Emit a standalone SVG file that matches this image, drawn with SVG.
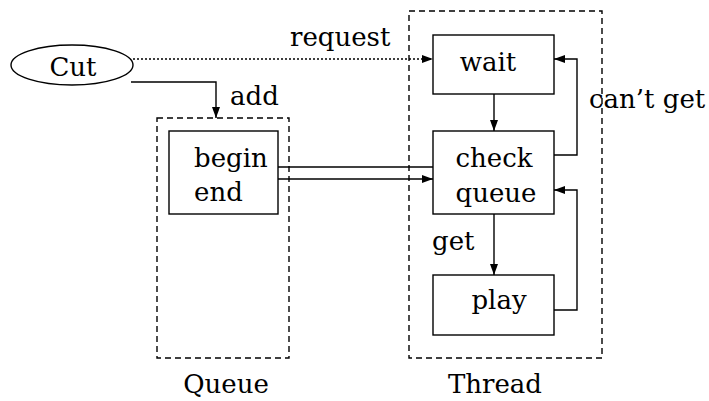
<svg xmlns="http://www.w3.org/2000/svg" width="709" height="401" viewBox="0 0 709 401">
  <style>
    text { font-family: "DejaVu Serif", "Liberation Serif", serif; font-size: 26px; fill: #000; }
    .box { fill: #fff; stroke: #000; stroke-width: 1.4; }
    .group { fill: none; stroke: #000; stroke-width: 1.4; stroke-dasharray: 6 4; }
    .edge { fill: none; stroke: #000; stroke-width: 1.4; }
    .dotted { stroke-dasharray: 2 2; }
  </style>
  <defs>
    <marker id="arrow" viewBox="0 0 11 8" refX="11" refY="4" markerWidth="11" markerHeight="8" markerUnits="userSpaceOnUse" orient="auto">
      <path d="M0,0 L11,4 L0,8 z" fill="#000"/>
    </marker>
  </defs>

  <rect width="709" height="401" fill="#fff"/>

  <!-- containers -->
  <g id="queue-group">
    <rect class="group" x="157" y="118" width="132" height="240"/>
    <text x="226" y="393" text-anchor="middle">Queue</text>
  </g>
  <g id="thread-group">
    <rect class="group" x="409" y="11" width="193" height="347"/>
    <text x="495" y="393" text-anchor="middle">Thread</text>
  </g>

  <!-- connectors -->
  <g id="connectors">
    <path class="edge dotted" d="M133,59 H433" marker-end="url(#arrow)"/>
    <path class="edge" d="M131,82 H216 V118" marker-end="url(#arrow)"/>
    <path class="edge" d="M278,167 H433"/>
    <path class="edge" d="M278,179 H433" marker-end="url(#arrow)"/>
    <path class="edge" d="M494,94 V131" marker-end="url(#arrow)"/>
    <path class="edge" d="M494,214 V275" marker-end="url(#arrow)"/>
    <path class="edge" d="M554,155 H577 V59 H554" marker-end="url(#arrow)"/>
    <path class="edge" d="M554,310 H577 V190 H554" marker-end="url(#arrow)"/>
    <text x="290" y="46">request</text>
    <text x="230" y="105">add</text>
    <text x="589" y="108">can’t get</text>
    <text x="432" y="250">get</text>
  </g>

  <!-- nodes -->
  <g id="cut">
    <ellipse class="box" cx="72" cy="65" rx="61" ry="20"/>
    <text x="73" y="76" text-anchor="middle">Cut</text>
  </g>
  <g id="queue-box">
    <rect class="box" x="169" y="131" width="109" height="83"/>
    <text x="194" y="167">begin</text>
    <text x="194" y="201">end</text>
  </g>
  <g id="wait">
    <rect class="box" x="433" y="35" width="121" height="59"/>
    <text x="488" y="71" text-anchor="middle">wait</text>
  </g>
  <g id="check-queue">
    <rect class="box" x="433" y="131" width="121" height="83"/>
    <text x="494" y="167" text-anchor="middle">check</text>
    <text x="496" y="202" text-anchor="middle">queue</text>
  </g>
  <g id="play">
    <rect class="box" x="433" y="275" width="121" height="60"/>
    <text x="499" y="309" text-anchor="middle">play</text>
  </g>
</svg>
